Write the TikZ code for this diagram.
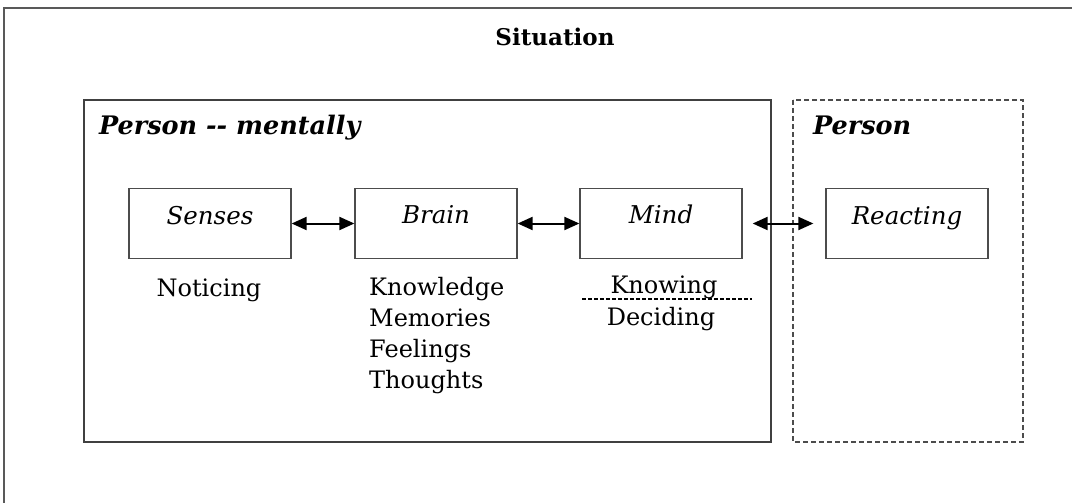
\documentclass[tikz,border=0pt]{standalone}
\usepackage{fontspec}
\setmainfont{DejaVu Serif}
\usetikzlibrary{arrows.meta}
\begin{document}
\begin{tikzpicture}[x=1pt,y=-1pt,
  frame/.style={draw=black!75, line width=1.2pt},
  stagebox/.style={draw=black!70, line width=1.3pt, minimum width=162pt, minimum height=70pt, inner sep=0pt},
  stagename/.style={font=\fontsize{24.5}{28}\selectfont\itshape, inner sep=0pt, anchor=base},
  caption/.style={font=\fontsize{24}{28}\selectfont, inner sep=0pt, anchor=base},
  heading/.style={font=\fontsize{25.5}{28}\selectfont\bfseries\itshape, inner sep=0pt, anchor=base west},
  link/.style={{Triangle[length=15pt,width=13pt]}-{Triangle[length=15pt,width=13pt]}, line width=2pt}
]
\useasboundingbox (0,0) rectangle (1072,503);
\fill[white] (0,0) rectangle (1072,503);

% outer situation frame, running past the page edges
\begin{scope}
  \clip (0,0) rectangle (1072,503);
  \draw[draw=black!65, line width=1.3pt] (4,520) -- (4,8) -- (1090,8);
\end{scope}
\node[font=\fontsize{23}{26}\selectfont\bfseries, inner sep=0pt, anchor=base] (situation) at (555,46) {Situation};

% mental part and the reacting person
\draw[frame] (84,100) rectangle (771,442);
\draw[draw=black!70, line width=1.1pt, dash pattern=on 5pt off 3pt] (793,100) rectangle (1023,442);
\node[heading] (mental) at (99,134) {Person -{}- mentally};
\node[heading] (person) at (813,134) {Person};

% stages, all on one row
\node[stagebox] (senses) at (210,223.5) {};
\node[stagebox] (brain) at (436,223.5) {};
\node[stagebox] (mind) at (661,223.5) {};
\node[stagebox] (reacting) at (907,223.5) {};
\node[stagename] (sensesT) at ([yshift=-1pt]senses.center) {Senses};
\node[stagename] (brainT) at (brain.center) {Brain};
\node[stagename] (mindT) at (mind.center) {Mind};
\node[stagename] (reactingT) at ([yshift=-1pt]reacting.center) {Reacting};

\draw[link] (senses.east) -- (brain.west);
\draw[link] (brain.east) -- (mind.west);
\draw[link] ([xshift=10pt]mind.east) -- ([xshift=-12pt]reacting.west);

% activities under each stage
\node[caption] (noticing) at (209,296) {Noticing};
\node[caption, anchor=base west] (knowledge) at (369,295) {Knowledge};
\node[caption, anchor=base west] (memories) at (369,326) {Memories};
\node[caption, anchor=base west] (feelings) at (369,357) {Feelings};
\node[caption, anchor=base west] (thoughts) at (369,388) {Thoughts};
\node[caption] (knowing) at (664,293) {Knowing};
\node[caption] (deciding) at (661,325) {Deciding};
\coordinate (splitL) at (582,299);
\coordinate (splitR) at (752,299);
\draw[line width=1.2pt, dash pattern=on 4pt off 2pt] (splitL) -- (splitR);
\end{tikzpicture}
\end{document}
